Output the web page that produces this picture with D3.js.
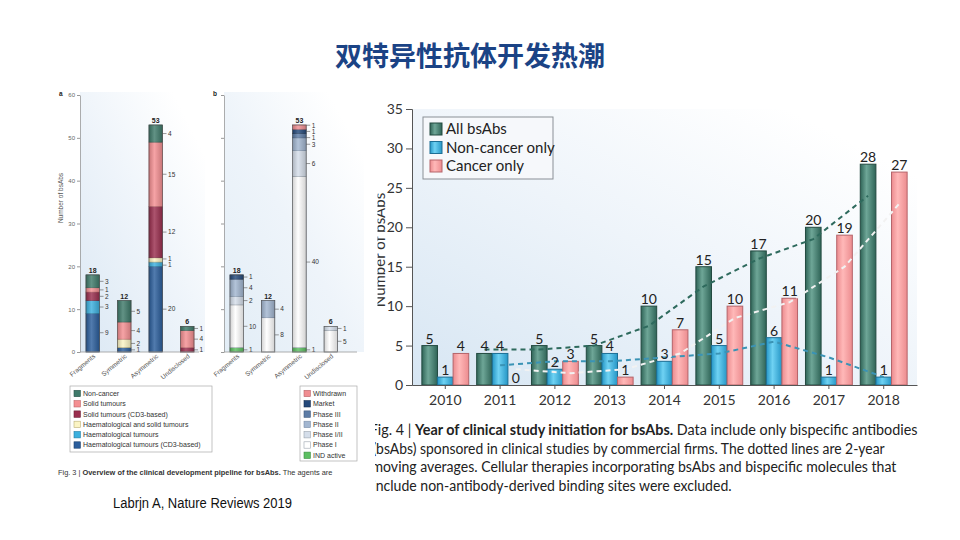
<!DOCTYPE html>
<html><head><meta charset="utf-8">
<script src="https://cdn.jsdelivr.net/npm/d3@7"></script>
<style>body{margin:0;background:#fff;overflow:hidden}</style>
</head><body>
<svg id="c" width="960" height="540"></svg>
<script>
// ---------------- DATA ----------------
const titleText = "双特异性抗体开发热潮";
const citeText = "Labrjn A, Nature Reviews 2019";

// Fig. 4 (right)
const years = ["2010","2011","2012","2013","2014","2015","2016","2017","2018"];
const allBsAbs   = [5, 4, 5, 5, 10, 15, 17, 20, 28];
const nonCancer  = [1, 4, 2, 4, 3, 5, 6, 1, 1];
const cancerOnly = [4, 0, 3, 1, 7, 10, 11, 19, 27];
const maYears = ["2011","2012","2013","2014","2015","2016","2017","2018"];
const allMA       = [4.5, 4.5, 5, 7.5, 12.5, 16, 18.5, 24];
const nonCancerMA = [2.5, 3, 3, 3.5, 4, 5.5, 3.5, 1];
const cancerMA    = [2, 1.5, 2, 4, 8.5, 10.5, 15, 23];
const yTicks = [0, 5, 10, 15, 20, 25, 30, 35];
const seriesNames = ["All bsAbs", "Non-cancer only", "Cancer only"];

// Fig. 3 (left)
const formats = ["Fragments", "Symmetric", "Asymmetric", "Undisclosed"];
const leftTicks = [0, 10, 20, 30, 40, 50, 60];
// panel a (bottom -> top)
const indicationNames = ["Haematological tumours (CD3-based)", "Haematological tumours",
  "Haematological and solid tumours", "Solid tumours (CD3-based)", "Solid tumours", "Non-cancer"];
const haemCD3    = [9, 1, 20, 0];
const haem       = [3, 0, 1, 0];
const haemSolid  = [0, 2, 1, 0];
const solidCD3   = [2, 0, 12, 1];
const solid      = [1, 4, 15, 4];
const nonCancerA = [3, 5, 4, 1];
// panel b (bottom -> top)
const phaseNames = ["IND active", "Phase I", "Phase I/II", "Phase II", "Phase III", "Market", "Withdrawn"];
const indActive = [1, 0, 1, 0];
const phase1    = [10, 8, 40, 5];
const phase12   = [2, 0, 6, 1];
const phase2    = [4, 4, 3, 0];
const phase3    = [0, 0, 1, 0];
const market    = [1, 0, 1, 0];
const withdrawn = [0, 0, 1, 0];

const fig4Caption = [
  [["Fig. 4 | ", 400], ["Year of clinical study initiation for bsAbs.", 700], [" Data include only bispecific antibodies", 400]],
  [["(bsAbs) sponsored in clinical studies by commercial firms. The dotted lines are 2-year", 400]],
  [["moving averages. Cellular therapies incorporating bsAbs and bispecific molecules that", 400]],
  [["include non-antibody-derived binding sites were excluded.", 400]]
];
const fig3Caption = [["Fig. 3 | ", 400], ["Overview of the clinical development pipeline for bsAbs.", 700], [" The agents are", 400]];

// ---------------- SETUP ----------------
const svg = d3.select("#c");
const defs = svg.append("defs");
svg.append("rect").attr("width", 960).attr("height", 540).attr("fill", "#fff");

function bgGrad(id, c0) {
  const g = defs.append("linearGradient").attr("id", id)
    .attr("x1", 0).attr("y1", 1).attr("x2", 0.85).attr("y2", 0.1);
  g.append("stop").attr("offset", 0).attr("stop-color", c0);
  g.append("stop").attr("offset", 0.55).attr("stop-color", "#eef4fa");
  g.append("stop").attr("offset", 1).attr("stop-color", "#ffffff");
}
bgGrad("bgR", "#d7e6f3");
bgGrad("bgA", "#dbe8f4");
bgGrad("bgB", "#e2edf6");

function cyl(id, edge, mid) {
  const g = defs.append("linearGradient").attr("id", id).attr("x1", 0).attr("x2", 1).attr("y1", 0).attr("y2", 0);
  g.append("stop").attr("offset", 0).attr("stop-color", edge);
  g.append("stop").attr("offset", 0.4).attr("stop-color", mid);
  g.append("stop").attr("offset", 1).attr("stop-color", edge);
}
cyl("gAll", "#2f6457", "#6ea697");
cyl("gNon", "#2596c6", "#6fd2f3");
cyl("gCan", "#ec8c8f", "#ffb8b8");
const shade = defs.append("linearGradient").attr("id", "shade").attr("x1", 0).attr("x2", 1);
shade.append("stop").attr("offset", 0).attr("stop-color", "#000").attr("stop-opacity", 0.18);
shade.append("stop").attr("offset", 0.4).attr("stop-color", "#fff").attr("stop-opacity", 0.18);
shade.append("stop").attr("offset", 1).attr("stop-color", "#000").attr("stop-opacity", 0.18);

// ---------------- TITLE ----------------
svg.append("text").attr("x", 470).attr("y", 66).attr("text-anchor", "middle")
  .attr("font-family", "'Noto Sans CJK SC'").attr("font-weight", 700).attr("font-size", 27)
  .attr("fill", "#1b4385").text(titleText);

// ---------------- RIGHT CHART (Fig. 4) ----------------
defs.append("clipPath").attr("id", "clipR").append("rect")
  .attr("x", 375).attr("y", 90).attr("width", 560).attr("height", 420);
defs.append("clipPath").attr("id", "clipY").append("rect")
  .attr("x", 377.5).attr("y", 90).attr("width", 40).attr("height", 300);
const gR = svg.append("g").attr("clip-path", "url(#clipR)");
const R = { left: 412, right: 917, top: 109, bottom: 385 };
const x = d3.scaleBand().domain(years).range([R.left, R.right]).paddingInner(0.145).paddingOuter(0.18);
const keys = ["all", "non", "can"];
const xs = d3.scaleBand().domain(keys).range([0, x.bandwidth()]);
const y = d3.scaleLinear().domain([0, 35]).range([R.bottom, R.top]);

gR.append("rect").attr("x", R.left).attr("y", R.top).attr("width", R.right - R.left)
  .attr("height", R.bottom - R.top).attr("fill", "url(#bgR)");

const seriesData = [
  { key: "all", vals: allBsAbs, fill: "url(#gAll)", stroke: "#234a41" },
  { key: "non", vals: nonCancer, fill: "url(#gNon)", stroke: "#1d6f95" },
  { key: "can", vals: cancerOnly, fill: "url(#gCan)", stroke: "#b5646a" }
];
seriesData.forEach(s => {
  const rows = years.map((yr, i) => ({ yr, v: s.vals[i] }));
  gR.selectAll(null).data(rows.filter(d => d.v > 0)).join("rect")
    .attr("x", d => x(d.yr) + xs(s.key)).attr("width", xs.bandwidth())
    .attr("y", d => y(d.v)).attr("height", d => y(0) - y(d.v))
    .attr("fill", s.fill).attr("stroke", s.stroke).attr("stroke-width", 1);
});

// axes
const yAxis = d3.axisLeft(y).tickValues(yTicks).tickSize(6).tickPadding(3);
const gy = gR.append("g").attr("transform", `translate(${R.left},0)`).call(yAxis);
gy.select(".domain").attr("stroke", "#555");
gy.selectAll(".tick line").attr("stroke", "#555");
gy.selectAll("text").attr("font-family", "Lato").attr("font-size", 14).attr("fill", "#333");
const xAxis = d3.axisBottom(x).tickSize(4).tickPadding(6).tickSizeOuter(0);
const gx = gR.append("g").attr("transform", `translate(0,${R.bottom})`).call(xAxis);
gx.select(".domain").attr("stroke", "#555");
gx.selectAll(".tick line").attr("stroke", "#555");
gx.selectAll("text").attr("font-family", "Lato").attr("font-size", 14).attr("fill", "#333");

// moving average lines
const maSeries = [
  { key: "all", vals: allMA, color: "#2e6a5d" },
  { key: "non", vals: nonCancerMA, color: "#3a93b5" },
  { key: "can", vals: cancerMA, color: "#f2f2f2" }
];
maSeries.forEach(s => {
  const line = d3.line().x((d, i) => x(maYears[i]) + xs(s.key) + xs.bandwidth() / 2).y(d => y(d));
  gR.append("path").datum(s.vals).attr("d", line).attr("fill", "none")
    .attr("stroke", s.color).attr("stroke-width", 2).attr("stroke-dasharray", "5,4");
});

// value labels
seriesData.forEach(s => {
  gR.selectAll(null).data(years.map((yr, i) => ({ yr, v: s.vals[i] }))).join("text")
    .attr("x", d => x(d.yr) + xs(s.key) + xs.bandwidth() / 2).attr("y", d => y(d.v) - 2)
    .attr("text-anchor", "middle").attr("font-family", "Lato").attr("font-size", 14)
    .attr("fill", "#222").text(d => d.v);
});

// y title (clipped like the cropped source image)
gR.append("g").attr("clip-path", "url(#clipY)")
  .append("text").attr("transform", `translate(385,250) rotate(-90)`).attr("text-anchor", "middle")
  .attr("font-family", "Lato").attr("font-size", 15).attr("fill", "#333").text("Number of bsAbs");

// legend
const lg = gR.append("g");
lg.append("rect").attr("x", 423).attr("y", 117).attr("width", 130).attr("height", 62)
  .attr("fill", "#f6f8fb").attr("stroke", "#8a8f96").attr("stroke-width", 1);
seriesData.forEach((s, i) => {
  const cy = 129 + i * 18.5;
  lg.append("rect").attr("x", 430).attr("y", cy - 6).attr("width", 12).attr("height", 12)
    .attr("fill", s.fill).attr("stroke", s.stroke);
  lg.append("text").attr("x", 446).attr("y", cy + 5).attr("font-family", "Lato").attr("font-size", 15)
    .attr("fill", "#222").text(seriesNames[i]);
});

// caption lines
function addText(g, parts, size, family, fill) {
  const t = g.append("text").attr("font-family", family).attr("font-size", size).attr("fill", fill);
  parts.forEach(p => t.append("tspan").attr("font-weight", p[1]).text(p[0]));
  return t;
}
const capEnds = [918, 885, 897, 732];
const capBase = [435, 453.5, 472, 490.5];
const cutFrac = [0.65, 0.7, 0.3, 0.8];
fig4Caption.forEach((parts, i) => {
  const t = addText(gR, parts, 15, "Lato", "#222");
  const total = t.node().getComputedTextLength();
  const tmp = addText(gR, [[parts[0][0][0], 400]], 15, "Lato", "#222");
  const pw = tmp.node().getComputedTextLength() * cutFrac[i];
  tmp.remove();
  const sx = (capEnds[i] - 375) / (total - pw);
  t.attr("transform", `translate(${capEnds[i] - total * sx},${capBase[i]}) scale(${sx},1)`);
});

// ---------------- LEFT CHART (Fig. 3) ----------------
const gL = svg.append("g");
const ya = d3.scaleLinear().domain([0, 60]).range([352, 95]);
const xa = d3.scaleBand().domain(formats).range([80, 200]).paddingInner(0.57).paddingOuter(0.19);
const xb = d3.scaleBand().domain(formats).range([224, 343.5]).paddingInner(0.57).paddingOuter(0.19);

gL.append("rect").attr("x", 80).attr("y", 92).attr("width", 125).attr("height", 260).attr("fill", "url(#bgA)");
gL.append("rect").attr("x", 224).attr("y", 92).attr("width", 140).attr("height", 260).attr("fill", "url(#bgB)");

const indColors = ["#2b5e9c", "#3cb0de", "#fbf4c4", "#9a2e4e", "#f48f92", "#3f7a6a"];
const indStroke = ["#1d416e", "#1f7ea6", "#b9ae78", "#6b1f36", "#c06468", "#2a554a"];
const phaseColors = ["#5cbf62", "#ffffff", "#d5deea", "#a2b6d0", "#5d7ca6", "#24497a", "#f08d91"];
const phaseStroke = ["#3e8e43", "#9aa3ad", "#9aa3ad", "#7a8ea8", "#3f5a7e", "#172f52", "#b8666b"];

const tableA = formats.map((f, i) => ({ f, k0: haemCD3[i], k1: haem[i], k2: haemSolid[i], k3: solidCD3[i], k4: solid[i], k5: nonCancerA[i] }));
const tableB = formats.map((f, i) => ({ f, k0: indActive[i], k1: phase1[i], k2: phase12[i], k3: phase2[i], k4: phase3[i], k5: market[i], k6: withdrawn[i] }));

function panel(table, nKeys, xsc, colors, strokes, axisX, showLabels, axisEnd, panelLetter, letterX) {
  const stack = d3.stack().keys(d3.range(nKeys).map(k => "k" + k))(table);
  const g = gL.append("g");
  stack.forEach((layer, li) => {
    g.selectAll(null).data(layer.filter(d => d[1] - d[0] > 0)).join("rect")
      .attr("x", d => xsc(d.data.f)).attr("width", xsc.bandwidth())
      .attr("y", d => ya(d[1])).attr("height", d => ya(d[0]) - ya(d[1]))
      .attr("fill", colors[li]).attr("stroke", strokes[li]).attr("stroke-width", 0.6);
  });
  table.forEach((row, i) => {
    const tot = d3.sum(d3.range(nKeys), k => row["k" + k]);
    g.append("rect").attr("x", xsc(row.f)).attr("width", xsc.bandwidth()).attr("y", ya(tot))
      .attr("height", ya(0) - ya(tot)).attr("fill", "url(#shade)");
    g.append("rect").attr("x", xsc(row.f)).attr("width", xsc.bandwidth()).attr("y", ya(tot))
      .attr("height", ya(0) - ya(tot)).attr("fill", "none").attr("stroke", "#555").attr("stroke-width", 0.6);
    g.append("text").attr("x", xsc(row.f) + xsc.bandwidth() / 2).attr("y", ya(tot) - 2)
      .attr("text-anchor", "middle").attr("font-family", "'Liberation Sans'").attr("font-size", 7)
      .attr("font-weight", 700).attr("fill", "#222").text(tot);
    const segs = [];
    let acc = 0;
    d3.range(nKeys).forEach(k => {
      const v = row["k" + k];
      if (v > 0) segs.push({ v, y: ya(acc + v / 2) });
      acc += v;
    });
    segs.sort((a, b) => a.y - b.y);
    for (let it = 0; it < 30; it++) {
      for (let j = 1; j < segs.length; j++) {
        const d = segs[j].y - segs[j - 1].y;
        if (d < 6.2) { const m = (6.2 - d) / 2; segs[j].y += m; segs[j - 1].y -= m; }
      }
    }
    const bx = xsc(row.f) + xsc.bandwidth();
    segs.forEach(s => {
      g.append("line").attr("x1", bx).attr("x2", bx + 4).attr("y1", s.y).attr("y2", s.y)
        .attr("stroke", "#555").attr("stroke-width", 0.6);
      g.append("text").attr("x", bx + 5.5).attr("y", s.y + 2.3).attr("font-family", "'Liberation Sans'")
        .attr("font-size", 6.5).attr("fill", "#333").text(s.v);
    });
  });
  const ax = d3.axisLeft(ya).tickValues(leftTicks).tickSize(3).tickPadding(2).tickSizeOuter(0);
  const ga = gL.append("g").attr("transform", `translate(${axisX},0)`).call(ax);
  ga.select(".domain").attr("stroke", "#999").attr("stroke-width", 0.8);
  ga.selectAll(".tick line").attr("stroke", "#999");
  ga.selectAll("text").attr("font-family", "'Liberation Sans'").attr("font-size", 6).attr("fill", "#666")
    .attr("opacity", showLabels ? 1 : 0);
  gL.append("line").attr("x1", axisX).attr("x2", axisEnd).attr("y1", 352).attr("y2", 352)
    .attr("stroke", "#999").attr("stroke-width", 0.8);
  gL.selectAll(null).data(formats).join("text")
    .attr("transform", d => `translate(${xsc(d) + xsc.bandwidth() / 2 + 3},357) rotate(-40)`)
    .attr("text-anchor", "end").attr("font-family", "'Liberation Sans'").attr("font-size", 6.5)
    .attr("fill", "#555").text(d => d);
  gL.append("text").attr("x", letterX).attr("y", 96).attr("font-family", "'Liberation Sans'")
    .attr("font-size", 6.5).attr("font-weight", 700).attr("fill", "#222").text(panelLetter);
}
panel(tableA, 6, xa, indColors, indStroke, 80, true, 199, "a", 59);
panel(tableB, 7, xb, phaseColors, phaseStroke, 224, false, 357, "b", 213);

gL.append("text").attr("transform", "translate(63,198) rotate(-90)").attr("text-anchor", "middle")
  .attr("font-family", "'Liberation Sans'").attr("font-size", 6.5).attr("fill", "#555").text("Number of bsAbs");

function legendBox(names, colors, strokes, bx, by, bw, bh, order) {
  gL.append("rect").attr("x", bx).attr("y", by).attr("width", bw).attr("height", bh)
    .attr("fill", "#fff").attr("stroke", "#aaa").attr("stroke-width", 0.7);
  order.forEach((k, i) => {
    const cy = by + 7.5 + i * 10.3;
    gL.append("rect").attr("x", bx + 4).attr("y", cy - 3.2).attr("width", 6.4).attr("height", 6.4)
      .attr("fill", colors[k]).attr("stroke", strokes[k]).attr("stroke-width", 0.6);
    gL.append("text").attr("x", bx + 13).attr("y", cy + 2.4).attr("font-family", "'Liberation Sans'")
      .attr("font-size", 7).attr("fill", "#333").text(names[k]);
  });
}
legendBox(indicationNames, indColors, indStroke, 70, 386, 142, 66, [5, 4, 3, 2, 1, 0]);
legendBox(phaseNames, phaseColors, phaseStroke, 300, 386, 57, 75, [6, 5, 4, 3, 2, 1, 0]);

const c3 = addText(gL, fig3Caption, 7, "'Liberation Sans'", "#333");
const c3w = c3.node().getComputedTextLength();
c3.attr("transform", `translate(58,475) scale(${275 / c3w},1)`);

svg.append("text").attr("x", 113).attr("y", 508).attr("font-family", "'Liberation Sans'")
  .attr("font-size", 14).attr("fill", "#111").attr("textLength", 179).attr("lengthAdjust", "spacingAndGlyphs")
  .text(citeText);
</script>
</body></html>
